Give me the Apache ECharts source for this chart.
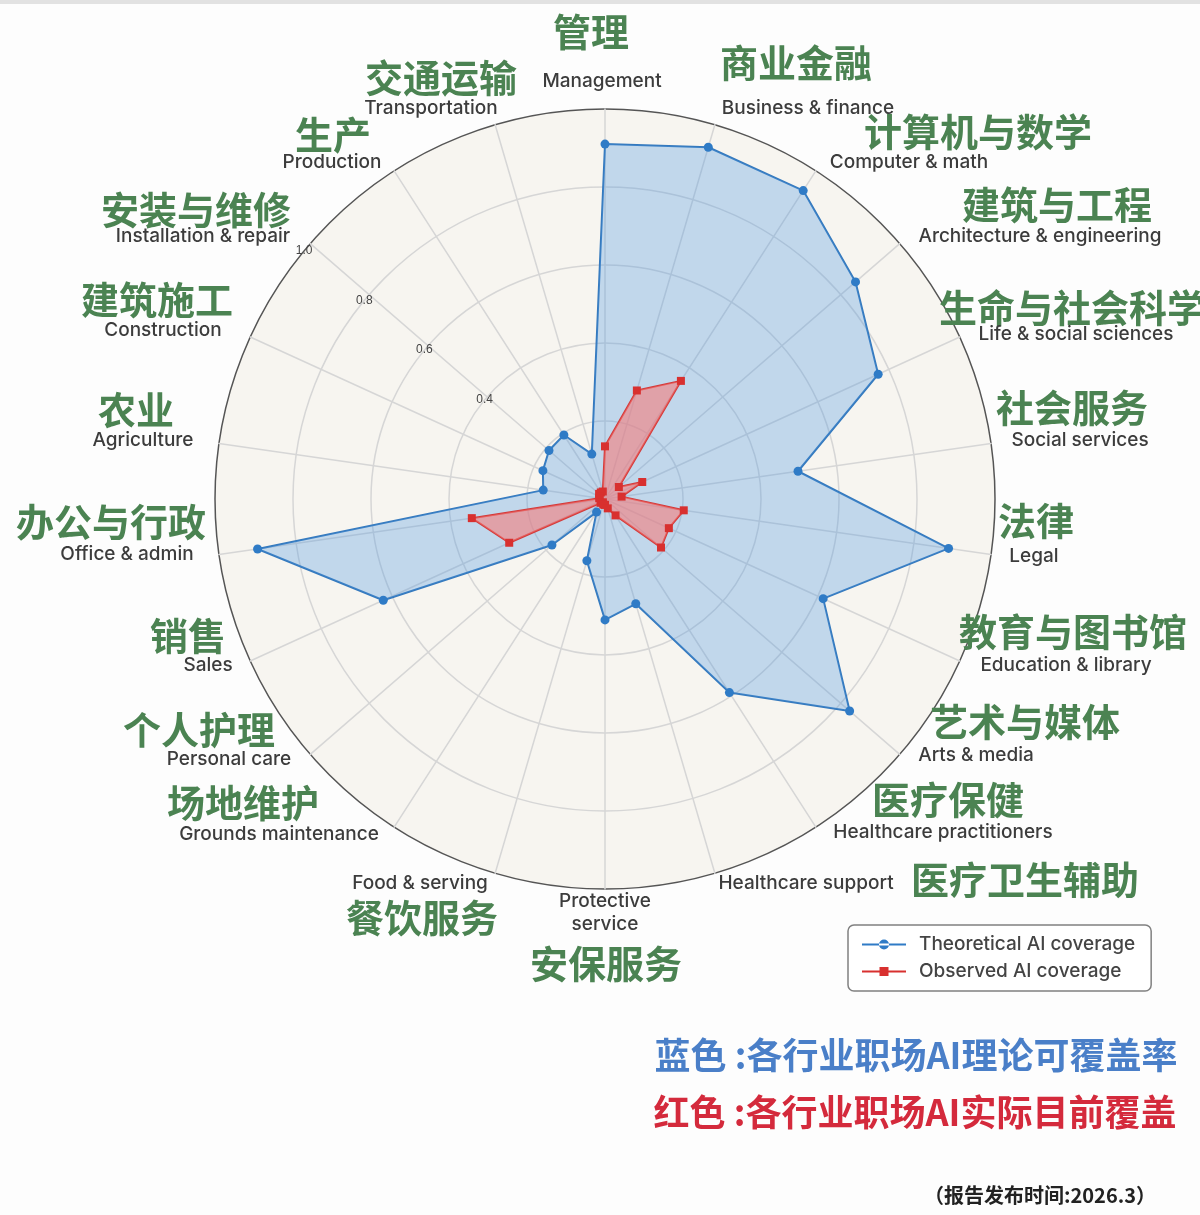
<!DOCTYPE html>
<html>
<head>
<meta charset="utf-8">
<script src="https://cdn.jsdelivr.net/npm/echarts@6/dist/echarts.min.js"></script>
<style>
html,body{margin:0;padding:0;background:#fdfdfd;}
#c{width:1200px;height:1215px;}
</style>
</head>
<body>
<div id="c"></div>
<script>
// ---- data (clockwise from top) ----
const categoriesZh = ['管理','商业金融','计算机与数学','建筑与工程','生命与社会科学','社会服务','法律','教育与图书馆','艺术与媒体','医疗保健','医疗卫生辅助','安保服务','餐饮服务','场地维护','个人护理','销售','办公与行政','农业','建筑施工','安装与维修','生产','交通运输'];
const categoriesEn = ['Management','Business & finance','Computer & math','Architecture & engineering','Life & social sciences','Social services','Legal','Education & library','Arts & media','Healthcare practitioners','Healthcare support','Protective\nservice','Food & serving','Grounds maintenance','Personal care','Sales','Office & admin','Agriculture','Construction','Installation & repair','Production','Transportation'];
const theoretical = [0.91,0.94,0.94,0.85,0.77,0.50,0.89,0.615,0.83,0.59,0.28,0.31,0.165,0.04,0.18,0.625,0.90,0.16,0.175,0.19,0.195,0.12];
const observed    = [0.135,0.29,0.36,0.047,0.105,0.043,0.204,0.18,0.19,0.05,0.025,0.015,0.015,0.01,0.015,0.27,0.345,0.015,0.015,0.02,0.02,0.02];
const tickLabels = ['0.4','0.6','0.8','1.0'];
const seriesNames = ['Theoretical AI coverage','Observed AI coverage'];
const noteBlue = '蓝色 :各行业职场AI理论可覆盖率';
const noteRed = '红色 :各行业职场AI实际目前覆盖';
const noteDate = '（报告发布时间:2026.3）';

// ---- label layout (zh x,y ; en x,y) ----
const labelPos = [
 [591,32,602,81],[796,63,808,108],[978,132,909,162],[1057,205,1040,236],[1072,308,1076,334],
 [1072,408,1080,440],[1036,521,1034,556],[1073,632,1066,665],[1025,722,976,755],[948,800,943,832],
 [1025,880,806,883],[606,964,605,913],[422,918,420,883],[243,803,279,834],[199,730,229,759],
 [188,636,208,665],[111,522,127,554],[136,410,143,440],[157,300,163,330],[196,210,203,236],
 [333,135,332,162],[441,78,431,108]
];

// ECharts radar places indicators counter-clockwise; reorder so they run clockwise
const n = categoriesEn.length;
const order = [0];
for (let i = n - 1; i >= 1; i--) order.push(i);
const indicators = order.map(i => ({ name: categoriesEn[i], max: 1, min: 0 }));
const theoVals = order.map(i => theoretical[i]);
const obsVals = order.map(i => observed[i]);

const CX = 605, CY = 499, R = 390;

const graphics = [];
categoriesZh.forEach((zh, i) => {
  const p = labelPos[i];
  graphics.push({ type:'text', x:p[0], y:p[1], z:10,
    style:{ text:zh, fill:'#4b8352', font:'bold 38px "Noto Sans CJK SC"', textAlign:'center', textVerticalAlign:'middle' } });
  graphics.push({ type:'text', x:p[2], y:p[3], z:10,
    style:{ text:categoriesEn[i], fill:'#3c3c3c', font:'500 19px Inter, "Noto Sans", sans-serif', textAlign:'center', textVerticalAlign:'middle', lineHeight:23 } });
});
graphics.push({ type:'text', x:916, y:1055, style:{ text:noteBlue, fill:'#4a7fc8', font:'bold 36px "Noto Sans CJK SC"', textAlign:'center', textVerticalAlign:'middle' } });
graphics.push({ type:'text', x:915, y:1112, style:{ text:noteRed, fill:'#d42a3c', font:'bold 36px "Noto Sans CJK SC"', textAlign:'center', textVerticalAlign:'middle' } });
graphics.push({ type:'text', x:1040, y:1195, style:{ text:noteDate, fill:'#222', font:'bold 20px "Noto Sans CJK SC"', textAlign:'center', textVerticalAlign:'middle' } });
graphics.push({ type:'rect', shape:{x:0,y:0,width:1200,height:4}, style:{fill:'#e2e2e2'} });

const chart = echarts.init(document.getElementById('c'), null, { renderer:'canvas' });
chart.setOption({
  backgroundColor:'#fdfdfd',
  animation:false,
  legend:{
    orient:'vertical', left:848, top:925,
    data:[
      { name:seriesNames[0], icon:'path://M0,6 L44,6 L44,8 L0,8 Z M17,7 A5,5 0 1,0 27,7 A5,5 0 1,0 17,7 Z' },
      { name:seriesNames[1], icon:'path://M0,6 L44,6 L44,8 L0,8 Z M17.5,2.5 L26.5,2.5 L26.5,11.5 L17.5,11.5 Z' }
    ],
    itemWidth:44, itemHeight:14, itemGap:4,
    padding:[8,16,8,14],
    borderColor:'#808080', borderWidth:1.5, borderRadius:6,
    backgroundColor:'#fff',
    textStyle:{ fontSize:19, color:'#444', fontFamily:'Inter, "Noto Sans", sans-serif', fontWeight:500, padding:[0,0,0,8], lineHeight:23 }
  },
  radar:{
    center:[CX, CY], radius:R, startAngle:90, shape:'circle', splitNumber:5,
    indicator:indicators,
    axisName:{ show:false },
    splitArea:{ show:true, areaStyle:{ color:['#f7f5f0'] } },
    splitLine:{ lineStyle:{ color:['#d6d6d6','#d6d6d6','#d6d6d6','#d6d6d6','#d6d6d6','#555'], width:1.5 } },
    axisLine:{ lineStyle:{ color:'#d6d6d6', width:1.5 } },
    axisTick:{ show:false }, axisLabel:{ show:false }
  },
  polar:{ center:[CX, CY], radius:R },
  angleAxis:{ type:'value', min:0, max:360, startAngle:140.5, show:false },
  radiusAxis:{
    type:'value', min:0, max:1, interval:0.2, z:5,
    axisLine:{ show:false }, axisTick:{ show:false }, splitLine:{ show:false },
    axisLabel:{ margin:0, fontSize:12, color:'#444', align:'center', verticalAlign:'middle',
      formatter: v => { const s = Number(v).toFixed(1); return tickLabels.indexOf(s) >= 0 ? s : ''; } }
  },
  series:[
    { type:'radar', name:seriesNames[0], z:2,
      symbol:'circle', symbolSize:9,
      itemStyle:{ color:'#2f7bc6' },
      lineStyle:{ color:'#3579bd', width:2 },
      areaStyle:{ color:'rgba(80,150,225,0.45)' },
      data:[ { value:theoVals, name:seriesNames[0] } ] },
    { type:'radar', name:seriesNames[1], z:3,
      symbol:'rect', symbolSize:8,
      itemStyle:{ color:'#d8302f' },
      lineStyle:{ color:'#d23b3b', width:2 },
      areaStyle:{ color:'rgba(248,120,118,0.82)' },
      data:[ { value:obsVals, name:seriesNames[1] } ] }
  ],
  graphic:graphics
});
</script>
</body>
</html>
